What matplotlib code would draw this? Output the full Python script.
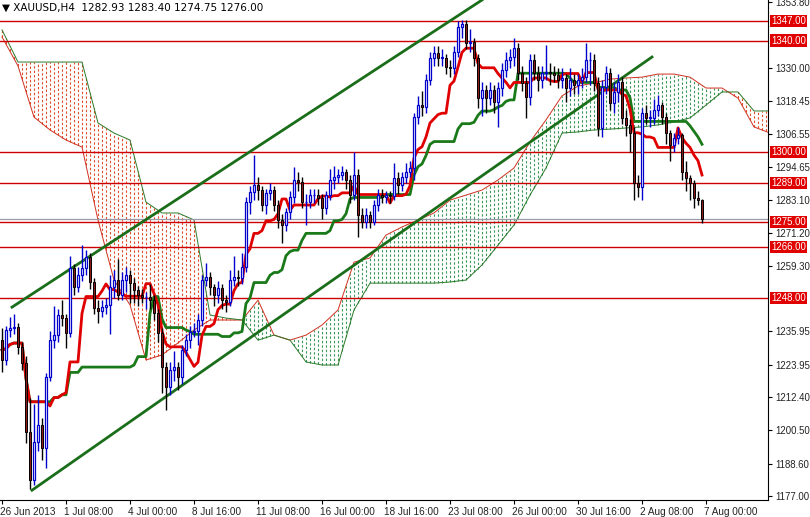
import numpy as np
import pandas as pd
import matplotlib
matplotlib.use("Agg")
import matplotlib.pyplot as plt
import matplotlib.transforms as mtransforms

# XAUUSD H4 candles (bar 0 = 26 Jun 2013)
open0 = 1232.8
closes = [1225.7,1236.4,1237.1,1237.5,1230.3,1224.6,1199.9,1182.7,1196.3,1202.4,
          1194.2,1219.6,1232.8,1234.6,1241.8,1240.7,1235.3,1258.6,1251.8,1256.1,
          1258.6,1262.5,1253.6,1244.3,1243.2,1244.6,1245.4,1251.8,1254.3,1248.9,
          1254.3,1256.1,1253.2,1250.7,1248.9,1248.2,1248.2,1247.2,1242.5,1235.3,
          1223.2,1216.0,1222.1,1223.2,1219.6,1229.3,1232.8,1235.7,1236.0,1240.0,
          1254.3,1255.4,1251.8,1248.9,1251.4,1247.2,1246.4,1254.3,1255.4,1255.0,
          1259.0,1282.2,1285.8,1288.3,1286.5,1281.1,1285.4,1286.5,1281.1,1275.8,
          1274.0,1278.6,1284.0,1290.1,1289.4,1282.2,1282.2,1284.7,1284.7,1283.7,
          1280.1,1284.7,1290.1,1291.2,1291.9,1293.0,1290.1,1284.7,1291.9,1277.6,
          1275.1,1277.6,1275.1,1281.1,1284.7,1284.0,1284.7,1284.4,1290.8,1288.3,
          1291.2,1293.0,1294.4,1312.6,1316.9,1316.2,1325.9,1333.8,1335.5,1333.8,
          1333.8,1330.5,1330.2,1335.9,1344.9,1345.9,1339.1,1339.5,1333.8,1319.4,
          1322.3,1319.4,1322.3,1318.0,1323.0,1329.5,1333.0,1334.1,1337.3,1328.4,
          1324.8,1319.8,1333.0,1328.4,1325.9,1328.4,1328.8,1328.4,1327.7,1325.9,
          1326.6,1323.0,1325.9,1324.1,1325.9,1327.0,1333.0,1333.0,1324.8,1308.7,
          1323.4,1328.4,1317.6,1321.6,1325.2,1312.3,1309.8,1306.9,1289.0,1287.5,
          1314.1,1312.3,1312.3,1315.1,1316.9,1312.6,1306.9,1302.6,1305.1,1306.2,
          1293.0,1290.8,1289.0,1283.7,1282.9,1276.0]
highs = [1237,1238,1241,1242,1239,1232,1227,1212,1210,1213,
         1205,1221,1236,1245,1244,1247,1242,1263,1260,1259,
         1266.8,1265,1264,1255,1247,1247,1248,1256,1258,1262,
         1257,1259,1258,1255,1252,1251,1250,1253,1249,1244,
         1237,1225,1225,1229,1225,1231,1235,1238,1239,1242,
         1256,1260.4,1257,1253,1254,1253,1249,1258,1263,1258,
         1264,1284,1288,1299,1291,1288,1287,1289,1288,1283,
         1278,1280,1286,1294.7,1293,1291,1285,1287,1287,1287,
         1285,1286,1294,1295,1294,1295,1294,1292,1300.1,1294,
         1280,1280,1279,1283,1287,1287,1286,1286,1296,1293,
         1293,1296,1297,1314,1320,1322,1328,1336,1338,1338,
         1337,1335,1333,1338,1347,1347.5,1347.3,1344,1341,1335,
         1325,1324,1325,1324,1325,1332,1336,1337,1340.9,1339,
         1331,1327,1335,1335,1331,1331,1338.4,1332,1331,1330,
         1330,1328,1330,1328,1328,1330,1339.1,1336,1335,1327,
         1326,1331,1330,1325,1328,1327,1315,1312,1309,1292,
         1316,1317,1315,1319,1320.5,1318,1314,1308,1307,1309,
         1307,1297,1292,1290,1286,1283.4]
lows = [1221.5,1224,1234,1235,1228,1222,1196,1179.5,1181,1193,
        1190,1187,1218,1230,1232,1238,1230,1234,1249,1250,
        1254,1256,1251,1242,1239,1241,1242,1235,1248,1247,
        1247,1250,1246,1246,1245,1246,1244,1244,1240,1232,
        1214,1207.8,1213,1218,1215,1217,1227,1230,1234,1231,
        1238,1252,1249,1245,1246,1244,1243,1245,1252,1252,
        1253,1257,1278,1283,1283,1279,1278,1283,1279,1273,
        1267.6,1272,1276,1282,1286,1280,1274,1280,1282,1281,
        1276,1278,1283,1287,1289,1290,1287,1282,1283,1269.7,
        1273,1273,1273,1274,1279,1282,1282,1282,1283,1285,
        1286,1289,1291,1290,1310,1313,1314,1324,1331,1331,
        1331,1328,1327,1328,1334,1341,1337,1336,1331,1316,
        1313,1314,1317,1314,1309.1,1320,1327,1330,1331,1326,
        1322,1312.3,1317,1326,1322,1323,1326,1324,1325,1323,
        1323,1318,1320,1321,1321,1323,1325,1324,1322,1306,
        1305.5,1321,1315,1314,1318,1310,1306,1300,1283,1284,
        1283,1310,1309,1310,1313,1310,1303,1297,1300,1303,
        1290,1286,1283,1280,1281,1274.75]

# Ichimoku cloud, read every 4 bars (bar 0, 4, 8, ...)
span_a = [1341.3,1330.9,1312.6,1308.0,1304.4,1301.9,1275.8,1254.3,1245.4,1225.7,
          1227.5,1231.8,1236.4,1240.0,1240.0,1240.0,1247.1,1234.6,1232.8,1234.6,
          1238.2,1243.6,1260.7,1262.2,1270.4,1273.3,1275.8,1278.3,1282.9,1284.7,
          1286.5,1290.1,1294.4,1303.7,1311.6,1320.2,1323.7,1324.8,1326.2,1326.6,
          1326.9,1328.0,1328.0,1326.9,1323.0,1323.0,1319.4,1309.1,1306.9]
span_b = [1343.8,1332.3,1332.3,1332.3,1332.3,1332.3,1310.5,1306.9,1304.4,1282.2,
          1278.3,1278.3,1275.8,1241.8,1240.7,1240.0,1232.8,1234.6,1232.8,1225.0,
          1223.9,1223.9,1243.6,1253.2,1253.2,1253.2,1253.2,1253.2,1253.6,1254.3,
          1259.7,1266.8,1274.0,1284.7,1294.4,1306.9,1307.3,1308.0,1308.3,1308.7,
          1309.1,1309.8,1310.9,1312.3,1316.9,1321.6,1321.6,1314.8,1314.8]

levels = [1347.0, 1340.0, 1300.0, 1289.0, 1275.0, 1266.0, 1248.0]
bid = 1276.00
axis_ticks = [1353.80, 1330.00, 1318.45, 1306.55, 1294.65, 1283.10, 1271.20,
              1259.30, 1235.95, 1223.95, 1212.40, 1200.50, 1188.60, 1177.00]
date_labels = ["26 Jun 2013", "1 Jul 08:00", "4 Jul 00:00", "8 Jul 16:00",
               "11 Jul 08:00", "16 Jul 00:00", "18 Jul 16:00", "23 Jul 08:00",
               "26 Jul 00:00", "30 Jul 16:00", "2 Aug 08:00", "7 Aug 00:00"]
# channel trend lines: (bar, price) anchors
upper_line = [(2.5, 1244.6), (120.0, 1354.5)]
lower_line = [(7.5, 1179.1), (162.5, 1334.1)]

closes = np.array(closes)
opens = np.concatenate([[open0], closes[:-1]])
highs = np.array(highs, float)
lows = np.array(lows, float)
n = len(closes)
idx = np.arange(n)

hs = pd.Series(highs)
ls = pd.Series(lows)
tenkan = (hs.rolling(9, min_periods=1).max() + ls.rolling(9, min_periods=1).min()) / 2
kijun = (hs.rolling(26, min_periods=1).max() + ls.rolling(26, min_periods=1).min()) / 2

fig = plt.figure(figsize=(8.1, 5.17), dpi=100)
ax = fig.add_axes([0, 17 / 517, 768 / 810, 500 / 517])
ax.set_xlim(-0.5, 191.5)
ax.set_ylim(1175.6, 1354.5)

# cloud: dashed vertical strokes on every bar
cx = 4 * np.arange(len(span_a))
bars = np.arange(0, 192)
ya = np.interp(bars, cx, span_a)
yb = np.interp(bars, cx, span_b)
for b in bars:
    col = "#e0502a" if yb[b] > ya[b] else "#3a9a5a"
    ax.vlines(b, min(ya[b], yb[b]), max(ya[b], yb[b]), colors=col,
              linewidth=0.8, linestyles=(0, (2.2, 1.8)), zorder=1)
ax.plot(cx, span_a, color="#d03020", lw=0.7, zorder=2)
ax.plot(cx, span_b, color="#2a7a2a", lw=0.7, zorder=2)

# horizontal levels
for lv in levels:
    ax.axhline(lv, color="#cc0000", lw=1.0, zorder=3)
ax.axhline(bid, color="#9a9aa8", lw=0.9, zorder=3)

# trend channel
for line in (upper_line, lower_line):
    ax.plot([p[0] for p in line], [p[1] for p in line], color="#1a6e1a", lw=2, zorder=4)

# indicator lines
ax.plot(idx, kijun, color="#1a7a1a", lw=2, zorder=5)
ax.plot(idx, tenkan, color="#e00000", lw=2, zorder=5)

# candles
w = 0.32
for i in idx:
    o, c, h, l = opens[i], closes[i], highs[i], lows[i]
    if c >= o:
        ax.vlines(i, l, h, color="#0000cc", lw=1, zorder=6)
        ax.add_patch(plt.Rectangle((i - w, o), 2 * w, max(c - o, 0.2),
                                   facecolor="white", edgecolor="#0000cc", lw=0.9, zorder=7))
    else:
        ax.vlines(i, l, h, color="black", lw=1, zorder=6)
        ax.add_patch(plt.Rectangle((i - w, c), 2 * w, o - c,
                                   facecolor="#8b1a1a", edgecolor="black", lw=0.7, zorder=7))

# axes styling
for s in ["top", "left"]:
    ax.spines[s].set_visible(False)
ax.spines["right"].set_color("black")
ax.spines["bottom"].set_color("black")
ax.yaxis.tick_right()
ax.set_yticks(axis_ticks)
ax.set_yticklabels(["%.2f" % t for t in axis_ticks], fontsize=6.9, color="#222222",
                   family="Liberation Sans")
ax.tick_params(axis="y", length=3, pad=2)
ax.set_xticks(16 * np.arange(len(date_labels)))
ax.set_xticklabels([])
ax.tick_params(axis="x", length=3)
for k, lab in enumerate(date_labels):
    ax.text(16 * k - 0.5, 1175.6 - 2.6, lab, fontsize=7.2, ha="left", va="top",
            color="#222222", family="Liberation Sans", clip_on=False)

trans = mtransforms.blended_transform_factory(ax.transAxes, ax.transData)
for lv in levels:
    ax.text(1.004, lv, "%.2f" % lv, transform=trans, fontsize=6.9, color="white",
            va="center", ha="left", zorder=10, clip_on=False, family="Liberation Sans",
            bbox=dict(boxstyle="square,pad=0.12", facecolor="#e00000", edgecolor="none"))

ax.text(0.002, 0.995, "\u25bc XAUUSD,H4  1282.93 1283.40 1274.75 1276.00",
        transform=ax.transAxes, fontsize=7.5, va="top", ha="left", color="black")

fig.savefig("out.png", dpi=100)
